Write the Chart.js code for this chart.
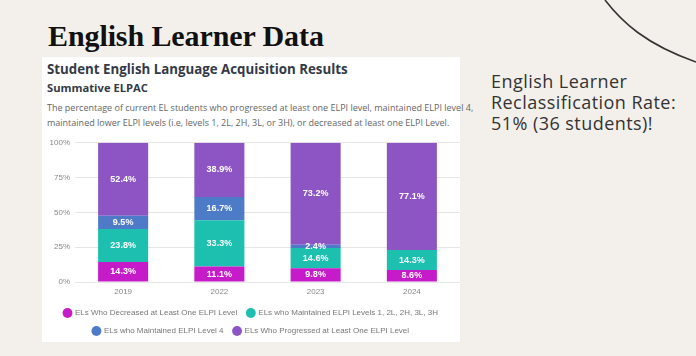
<!DOCTYPE html>
<html><head><meta charset="utf-8">
<script src="https://cdn.jsdelivr.net/npm/chart.js@4"></script>
<style>
html,body{margin:0;padding:0;}
body{width:696px;height:356px;background:#f3f0eb;position:relative;overflow:hidden;font-family:"Open Sans",sans-serif;}
#curve{position:absolute;left:0;top:0;}
#title{position:absolute;left:48px;top:19px;font-family:"Liberation Serif",serif;font-weight:bold;font-size:30px;color:#111;white-space:nowrap;letter-spacing:-0.1px;}
#panel{position:absolute;left:42px;top:57px;width:418px;height:285px;background:#fff;}
#h1{position:absolute;left:47px;top:60px;font-family:"Open Sans",sans-serif;font-weight:700;font-size:13.3px;color:#343a46;white-space:nowrap;}
#h2{position:absolute;left:47px;top:80px;font-family:"Open Sans",sans-serif;font-weight:700;font-size:11.2px;color:#343a46;white-space:nowrap;}
#desc{position:absolute;left:47px;top:100px;font-family:"Open Sans",sans-serif;font-size:9px;line-height:15px;color:#666;white-space:nowrap;}
#side{position:absolute;left:491px;top:71px;font-family:"Open Sans",sans-serif;font-size:18px;line-height:21px;letter-spacing:0.45px;color:#333;white-space:nowrap;}
#wrap{position:absolute;left:42px;top:133px;width:418px;height:212px;}
</style></head><body>
<svg id="curve" width="696" height="356"><path d="M605 0 C 622 22, 645 44, 696 62" fill="none" stroke="#333" stroke-width="1.6"/></svg>
<div id="title">English Learner Data</div>
<div id="panel"></div>
<div id="h1">Student English Language Acquisition Results</div>
<div id="h2">Summative ELPAC</div>
<div id="desc">The percentage of current EL students who progressed at least one ELPI level, maintained ELPI level 4,<br>maintained lower ELPI levels (i.e, levels 1, 2L, 2H, 3L, or 3H), or decreased at least one ELPI Level.</div>
<div id="side">English Learner<br>Reclassification Rate:<br>51% (36 students)!</div>
<div id="wrap"><canvas id="c" width="418" height="212"></canvas></div>
<script>
const years = ["2019","2022","2023","2024"];
const decreased = [14.3, 11.1, 9.8, 8.6];
const maintainedLower = [23.8, 33.3, 14.6, 14.3];
const maintainedL4 = [9.5, 16.7, 2.4, 0];
const progressed = [52.4, 38.9, 73.2, 77.1];
const seriesNames = ["ELs Who Decreased at Least One ELPI Level","ELs who Maintained ELPI Levels 1, 2L, 2H, 3L, 3H","ELs who Maintained ELPI Level 4","ELs Who Progressed at Least One ELPI Level"];
const seriesColors = ["#c61bc8","#1dbfae","#4e7bc8","#8d55c4"];
const yTicks = [0,25,50,75,100];

const labelPlugin = {
  id:'segLabels',
  afterDatasetsDraw(chart){
    const ctx = chart.ctx;
    ctx.save();
    ctx.font = 'bold 9px "Liberation Sans", Arial, sans-serif';
    ctx.fillStyle = '#fff';
    ctx.textAlign = 'center';
    ctx.textBaseline = 'middle';
    chart.data.datasets.forEach((ds,i)=>{
      const meta = chart.getDatasetMeta(i);
      meta.data.forEach((el,j)=>{
        const v = ds.data[j];
        if(!v) return;
        ctx.fillText(v.toFixed(1)+'%', el.x, (el.y+el.base)/2);
      });
    });
    ctx.restore();
  }
};

new Chart(document.getElementById('c'),{
  type:'bar',
  data:{
    labels: years,
    datasets:[decreased,maintainedLower,maintainedL4,progressed].map((d,i)=>({
      label: seriesNames[i], data:d, backgroundColor: seriesColors[i], borderWidth:0,
      categoryPercentage:1, barPercentage:0.52
    }))
  },
  options:{
    responsive:false, animation:false,
    layout:{padding:{top:4,left:0,right:0,bottom:0}},
    scales:{
      x:{stacked:true, grid:{display:false, drawTicks:false}, border:{display:false},
         afterFit(s){ s.height = 17; },
         ticks:{color:'#888', font:{size:8, family:'"Liberation Sans", Arial, sans-serif'}, padding:5}},
      y:{stacked:true, min:0, max:100,
         afterBuildTicks(s){ s.ticks = yTicks.map(v=>({value:v})); },
         afterFit(s){ s.width = 33; },
         grid:{color:'#e6e6e6', drawTicks:false}, border:{display:false},
         ticks:{color:'#888', padding:5, font:{size:8, family:'"Liberation Sans", Arial, sans-serif'}, callback:v=>v+'%'}}
    },
    plugins:{
      legend:{position:'bottom', labels:{usePointStyle:true, pointStyle:'circle', boxWidth:7, boxHeight:7, color:'#777', padding:10,
        font:{size:8, family:'"Liberation Sans", Arial, sans-serif'}}},
      tooltip:{enabled:false}
    }
  },
  plugins:[labelPlugin]
});
</script>
</body></html>
